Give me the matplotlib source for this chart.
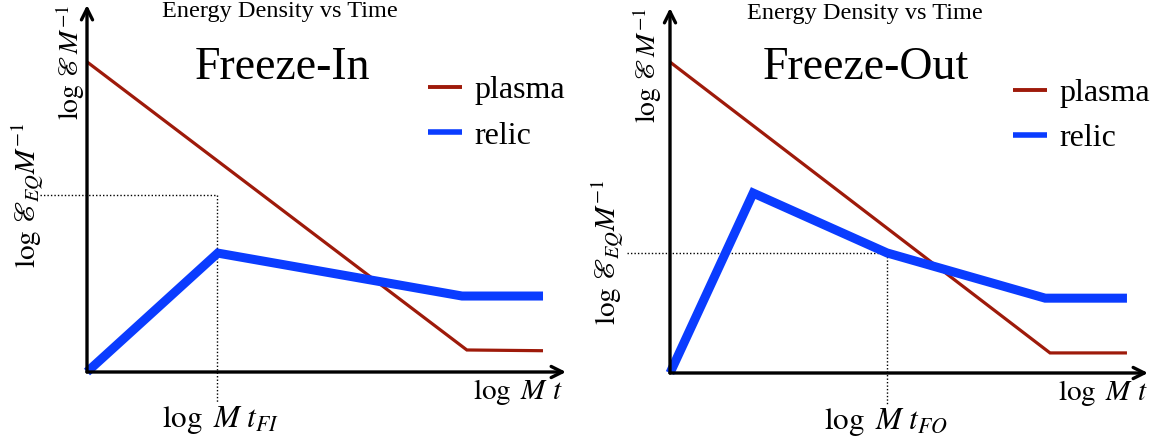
import matplotlib
matplotlib.use("Agg")
from matplotlib import pyplot as plt

plt.rcParams['font.family'] = ['Liberation Serif', 'DejaVu Serif']
plt.rcParams['mathtext.fontset'] = 'stix'

# schematic data, x = log M t, y = log energy density (arbitrary units, axis runs 0..10)
fi_plasma_x = [0, 7.93, 9.52]
fi_plasma_y = [8.45, 0.60, 0.58]
fi_relic_x = [0, 2.73, 7.83, 9.52]
fi_relic_y = [0, 3.24, 2.07, 2.07]
fi_t_mark = 2.71
fi_eq_level = 4.82

fo_plasma_x = [0, 7.95, 9.56]
fo_plasma_y = [8.52, 0.55, 0.55]
fo_relic_x = [0, 1.74, 4.54, 7.85, 9.56]
fo_relic_y = [0, 4.93, 3.29, 2.05, 2.05]
fo_t_mark = 4.54
fo_eq_level = 3.29

PLASMA = '#9e1a0a'
RELIC = '#0a3cff'
W, H = 1161, 442


def make_axes(fig, x0, y0, x1, y1):
    # pixel box -> figure fraction
    return fig.add_axes([x0 / W, 1 - y0 / H, (x1 - x0) / W, (y0 - y1) / H])


def draw_panel(ax, px, py, rx, ry, t_mark, eq_level, name, t_label, lab):
    ax.set_xlim(0, 10)
    ax.set_ylim(0, 10)
    ax.axis('off')

    arrow = dict(arrowstyle='->,head_length=0.8,head_width=0.4', lw=2.4,
                 color='black', shrinkA=0, shrinkB=0)
    ax.annotate('', xy=(10, 0), xytext=(0, 0), arrowprops=arrow, annotation_clip=False)
    ax.annotate('', xy=(0, 10), xytext=(0, 0), arrowprops=arrow, annotation_clip=False)

    # dotted guides
    ax.plot([lab['hx0'], t_mark], [eq_level, eq_level], ls=(0, (1, 1.5)), lw=1.0,
            color='black', clip_on=False)
    ax.plot([t_mark, t_mark], [eq_level, lab['vy0']], ls=(0, (1, 1.5)), lw=1.0,
            color='black', clip_on=False)

    ax.plot(px, py, color=PLASMA, lw=2.3, label='plasma', clip_on=False,
            solid_joinstyle='miter', solid_capstyle='butt')
    ax.plot(rx, ry, color=RELIC, lw=6.5, label='relic', clip_on=False,
            solid_joinstyle='miter', solid_capstyle='butt')

    leg = ax.legend(loc='center left', bbox_to_anchor=lab['leg'], frameon=False,
                    fontsize=23, handlelength=1.05, handletextpad=0.4,
                    labelspacing=0.5, borderpad=0, borderaxespad=0)
    leg.get_lines()[0].set_linewidth(2.8)
    leg.get_lines()[1].set_linewidth(4.0)

    ax.text(lab['title'][0], lab['title'][1], 'Energy Density vs Time', fontsize=17.5,
            ha='center', va='center')
    ax.text(lab['name'][0], lab['name'][1], name, fontsize=33, ha='center', va='center')
    ax.text(lab['ylab'][0], lab['ylab'][1], r'$\log\,\mathscr{E}\,M^{-1}$', fontsize=20,
            rotation=90, ha='center', va='center')
    ax.text(lab['eqlab'][0], lab['eqlab'][1], r'$\log\,\mathscr{E}_{EQ}M^{-1}$',
            fontsize=21, rotation=90, ha='center', va='center')
    ax.text(lab['xlab'][0], lab['xlab'][1], r'$\log\ M\ t$', fontsize=21,
            ha='center', va='center')
    ax.text(lab['tlab'][0], lab['tlab'][1], t_label, fontsize=22.5,
            ha='center', va='center')


fig = plt.figure(figsize=(W / 100, H / 100), dpi=100)

ax1 = make_axes(fig, 87, 372, 566, 5)
draw_panel(ax1, fi_plasma_x, fi_plasma_y, fi_relic_x, fi_relic_y, fi_t_mark, fi_eq_level,
           'Freeze-In', r'$\log\ M\ t_{FI}$',
           dict(hx0=-0.98, vy0=-0.84, leg=(0.712, 0.705), title=(4.03, 9.81),
                name=(4.09, 8.28), ylab=(-0.35, 8.45), eqlab=(-1.25, 4.82),
                xlab=(9.0, -0.54), tlab=(2.78, -1.31)))

ax2 = make_axes(fig, 670, 373, 1148, 8)
draw_panel(ax2, fo_plasma_x, fo_plasma_y, fo_relic_x, fo_relic_y, fo_t_mark, fo_eq_level,
           'Freeze-Out', r'$\log\ M\ t_{FO}$',
           dict(hx0=-0.9, vy0=-0.88, leg=(0.718, 0.705), title=(4.08, 9.84),
                name=(4.1, 8.36), ylab=(-0.48, 8.44), eqlab=(-1.30, 3.32),
                xlab=(9.06, -0.55), tlab=(4.52, -1.34)))

fig.savefig('out.png', dpi=100)
